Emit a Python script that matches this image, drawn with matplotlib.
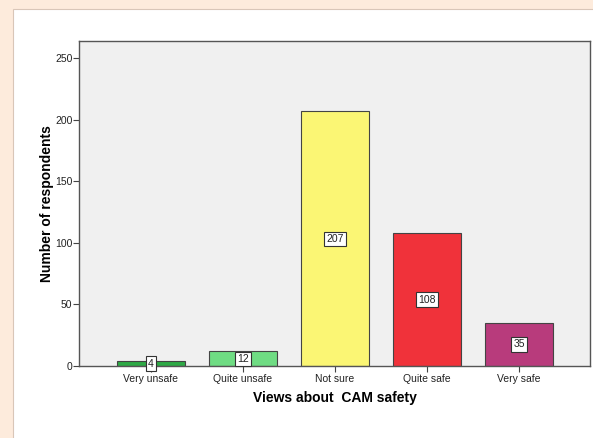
import matplotlib.pyplot as plt
from matplotlib.patches import Rectangle

categories = ["Very unsafe", "Quite unsafe", "Not sure", "Quite safe", "Very safe"]
counts = [4, 12, 207, 108, 35]
colors = ["#2eaa46", "#6fdc83", "#fbf674", "#f0323a", "#b83b7c"]
yticks = [0, 50, 100, 150, 200, 250]


def main():
    plt.rcParams['font.family'] = ['Liberation Sans', 'DejaVu Sans']

    fig = plt.figure(figsize=(5.93, 4.38), dpi=100)
    fig.patch.set_facecolor("#fdebdc")

    # white panel behind the chart
    fig.patches.append(Rectangle((13 / 593, -0.1), 1.0, (438 - 9) / 438 + 0.1,
                                 transform=fig.transFigure, facecolor="white",
                                 edgecolor="#d9c6b8", linewidth=0.8, zorder=-1))

    ax = fig.add_axes([79 / 593, (438 - 366) / 438, (590 - 79) / 593, (366 - 41) / 438])
    ax.set_facecolor("#f0f0f0")

    x = list(range(len(categories)))
    ax.bar(x, counts, width=0.74, color=colors, edgecolor="#444444", linewidth=0.8, zorder=2)

    for xi, c in zip(x, counts):
        ax.text(xi, c / 2, str(c), ha="center", va="center", fontsize=7.5, color="#222222",
                zorder=3, bbox=dict(boxstyle="square,pad=0.2", facecolor="white",
                                    edgecolor="#333333", linewidth=0.8))

    ax.set_xlim(-0.78, 4.77)
    ax.set_ylim(0, 264)
    ax.set_yticks(yticks)
    ax.set_xticks(x)
    ax.set_xticklabels(categories)
    ax.tick_params(labelsize=7.5, length=4.5, width=0.8, color="#444444", labelcolor="#222222", pad=1.5)
    ax.tick_params(axis="y", pad=0.3)

    for s in ax.spines.values():
        s.set_color("#555555")
        s.set_linewidth(1.0)

    ax.set_ylabel("Number of respondents", fontsize=10, fontweight="bold", labelpad=0.5)
    ax.set_xlabel("Views about  CAM safety", fontsize=10, fontweight="bold", labelpad=5)

    fig.savefig("out.png", dpi=100, facecolor=fig.get_facecolor())


if __name__ == '__main__':
    main()
